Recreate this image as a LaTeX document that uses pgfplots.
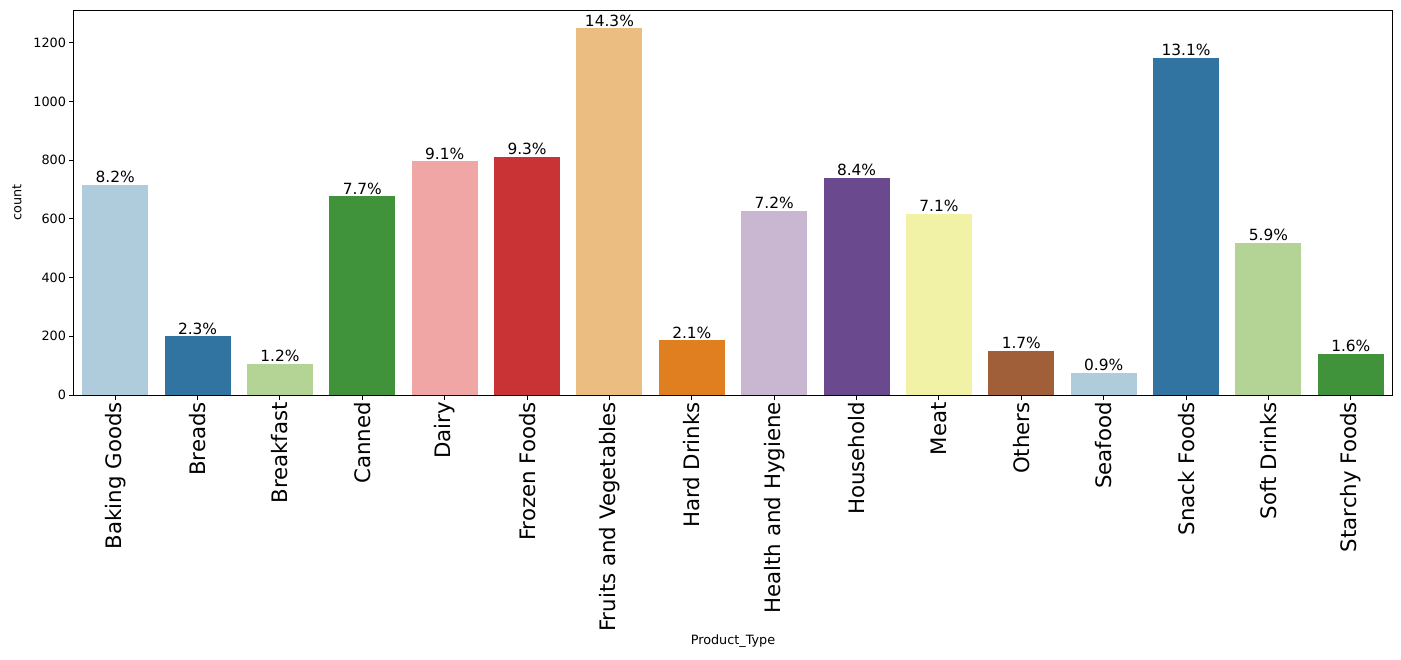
\documentclass[border=0pt]{standalone}
\usepackage{fontspec}
\setmainfont{DejaVu Sans}
\usepackage{pgfplots}
\pgfplotsset{compat=1.18}
\definecolor{c1}{RGB}{174,204,219}
\definecolor{c2}{RGB}{50,116,161}
\definecolor{c3}{RGB}{179,212,149}
\definecolor{c4}{RGB}{64,146,59}
\definecolor{c5}{RGB}{239,166,165}
\definecolor{c6}{RGB}{202,51,53}
\definecolor{c7}{RGB}{235,189,129}
\definecolor{c8}{RGB}{223,127,32}
\definecolor{c9}{RGB}{201,183,210}
\definecolor{c10}{RGB}{106,73,142}
\definecolor{c11}{RGB}{242,242,166}
\definecolor{c12}{RGB}{160,94,57}
\begin{document}
\begin{tikzpicture}
\path[use as bounding box] (-74pt,-264pt) rectangle (1327pt,395pt);
\begin{axis}[
  at={(0pt,0pt)}, anchor=south west,
  scale only axis, width=1318pt, height=385pt,
  xmin=-0.5, xmax=15.5, ymin=0, ymax=1311.45,
  ybar, bar width=0.8,
  xtick={0,...,15},
  xticklabels={Baking Goods,Breads,Breakfast,Canned,Dairy,Frozen Foods,Fruits and Vegetables,Hard Drinks,Health and Hygiene,Household,Meat,Others,Seafood,Snack Foods,Soft Drinks,Starchy Foods},
  ytick={0,200,...,1200},
  xtick pos=lower, ytick pos=left,
  tick align=outside, major tick length=4.5pt,
  tick style={line width=1pt, black},
  axis line style={line width=1pt},
  axis on top,
  xticklabel style={rotate=90, anchor=east, inner sep=2.5pt, font=\fontsize{21.3}{25}\selectfont},
  yticklabel style={font=\fontsize{12.8}{15}\selectfont},
  /pgf/number format/assume math mode=true,
  /pgf/number format/1000 sep={},
  xlabel={Product\_Type}, ylabel={count},
  label style={font=\fontsize{12.8}{15}\selectfont},
  x label style={at={(axis description cs:0.5,-0.639)}, anchor=center},
  y label style={at={(axis description cs:-0.04325,0.5)}, anchor=center},
  point meta=explicit symbolic,
  nodes near coords={\pgfplotspointmeta\%},
  every node near coord/.append style={font=\fontsize{15.4}{18}\selectfont, anchor=base, yshift=2pt, black, inner sep=0pt},
]
\addplot[fill=c1, draw=none, bar shift=0pt] coordinates {(0,716) [8.2]};
\addplot[fill=c2, draw=none, bar shift=0pt] coordinates {(1,200) [2.3]};
\addplot[fill=c3, draw=none, bar shift=0pt] coordinates {(2,106) [1.2]};
\addplot[fill=c4, draw=none, bar shift=0pt] coordinates {(3,677) [7.7]};
\addplot[fill=c5, draw=none, bar shift=0pt] coordinates {(4,796) [9.1]};
\addplot[fill=c6, draw=none, bar shift=0pt] coordinates {(5,811) [9.3]};
\addplot[fill=c7, draw=none, bar shift=0pt] coordinates {(6,1249) [14.3]};
\addplot[fill=c8, draw=none, bar shift=0pt] coordinates {(7,186) [2.1]};
\addplot[fill=c9, draw=none, bar shift=0pt] coordinates {(8,628) [7.2]};
\addplot[fill=c10, draw=none, bar shift=0pt] coordinates {(9,740) [8.4]};
\addplot[fill=c11, draw=none, bar shift=0pt] coordinates {(10,618) [7.1]};
\addplot[fill=c12, draw=none, bar shift=0pt] coordinates {(11,151) [1.7]};
\addplot[fill=c1, draw=none, bar shift=0pt] coordinates {(12,76) [0.9]};
\addplot[fill=c2, draw=none, bar shift=0pt] coordinates {(13,1149) [13.1]};
\addplot[fill=c3, draw=none, bar shift=0pt] coordinates {(14,519) [5.9]};
\addplot[fill=c4, draw=none, bar shift=0pt] coordinates {(15,141) [1.6]};
\end{axis}
\end{tikzpicture}
\end{document}
